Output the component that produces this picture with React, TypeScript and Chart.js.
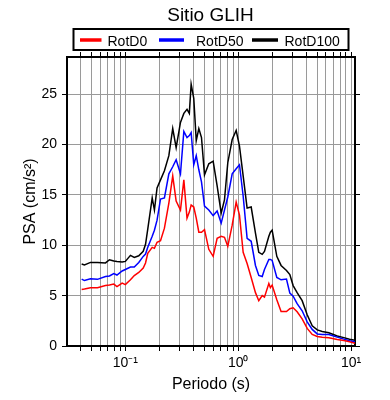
import { useEffect, useRef } from 'react';
import { Chart, registerables } from 'chart.js';

Chart.register(...registerables);

const FONT = "'Liberation Sans', Arial, Helvetica, sans-serif";

const chartTitle = 'Sitio GLIH';
const xAxisTitle = 'Periodo (s)';
const yAxisTitle = 'PSA (cm/s²)';

const seriesNames = ['RotD0', 'RotD50', 'RotD100'];
const seriesColors = ['#ff0000', '#0000ff', '#000000'];

const periods = [
  0.041, 0.0434, 0.0491, 0.0566, 0.0667, 0.0723, 0.079, 0.0843, 0.0937, 0.1,
  0.111, 0.12, 0.1315, 0.144, 0.151, 0.158, 0.173, 0.181, 0.191, 0.205,
  0.222, 0.243, 0.263, 0.282, 0.308, 0.33, 0.352, 0.369, 0.383, 0.404,
  0.425, 0.448, 0.473, 0.503, 0.549, 0.6, 0.651, 0.707, 0.756, 0.809,
  0.885, 0.96, 1.027, 1.107, 1.2, 1.304, 1.423, 1.523, 1.633, 1.71,
  1.87, 1.93, 2.0, 2.2, 2.4, 2.68, 2.87, 3.07, 3.33, 3.69,
  4.09, 4.53, 5.02, 5.56, 6.36, 7.55, 8.64, 9.7, 10.85,
];

const rotD0 = [
  5.6, 5.65, 5.78, 5.78, 6.0, 6.05, 6.15, 5.9, 6.24, 6.1,
  6.57, 7.0, 7.3, 7.75, 8.24, 9.2, 9.8, 9.7, 10.3, 10.45,
  11.7, 14.2, 16.9, 14.4, 13.5, 16.5, 12.7, 13.3, 14.0, 13.8,
  12.7, 11.3, 11.3, 11.55, 9.6, 8.9, 10.7, 10.9, 10.8, 9.9,
  12.0, 14.3, 13.0, 9.3, 8.2, 6.8, 5.3, 4.5, 5.0, 4.85,
  6.2, 5.8, 6.05, 4.6, 3.42, 3.42, 3.7, 3.8, 3.4, 2.7,
  1.75, 1.15, 0.95, 0.87, 0.83, 0.65, 0.55, 0.42, 0.28,
];

const rotD50 = [
  6.65, 6.5, 6.68, 6.62, 6.9, 6.95, 7.2, 7.05, 7.45, 7.6,
  7.84, 7.85, 8.3, 8.9, 9.13, 9.8, 10.9, 11.5, 12.5, 14.6,
  14.7, 17.1, 17.8, 18.5, 17.1, 21.3, 20.7, 20.9, 21.2, 18.0,
  18.9, 17.5, 16.3, 13.9, 13.5, 12.95, 13.4, 12.2, 13.5, 14.8,
  17.1, 17.6, 18.0, 14.9, 10.7, 10.4, 8.0, 7.0, 6.9, 7.6,
  8.6, 8.6, 8.5, 6.8, 6.57, 6.65, 5.25, 4.95, 4.2, 3.5,
  2.4, 1.65, 1.2, 1.15, 1.15, 0.88, 0.68, 0.52, 0.43,
];

const rotD100 = [
  8.15, 8.05, 8.3, 8.3, 8.25, 8.57, 8.45, 8.4, 8.35, 8.4,
  9.0, 8.8, 8.96, 9.4, 10.1, 11.6, 14.7, 13.5, 15.7, 16.5,
  17.4, 18.9, 21.6, 19.7, 22.2, 23.1, 23.5, 23.1, 26.0, 24.6,
  20.4, 21.6, 20.7, 17.0, 18.1, 18.35, 15.9, 13.2, 14.5, 18.2,
  20.5, 21.4, 19.85, 16.9, 13.7, 13.8, 11.2, 9.3, 9.1, 9.4,
  10.9, 11.3, 11.5, 8.9, 8.0, 7.5, 7.1, 6.0, 5.3, 4.5,
  3.1, 2.0, 1.6, 1.45, 1.32, 1.0, 0.83, 0.68, 0.58,
];

const seriesValues = [rotD0, rotD50, rotD100];

const xMin = 0.0304;
const xMax = 10.85;
const yMin = 0;
const yMax = 28.7;
const yTickValues = [0, 5, 10, 15, 20, 25];

const superscripts: Record<string, string> = { '-': '⁻', '0': '⁰', '1': '¹', '2': '²', '3': '³' };

function logTickValues(): number[] {
  const out: number[] = [];
  for (let k = -2; k <= 1; k++) {
    for (let m = 1; m <= 9; m++) {
      const v = parseFloat((m * Math.pow(10, k)).toPrecision(6));
      if (v >= xMin && v <= xMax) out.push(v);
    }
  }
  return out;
}

function decadeLabel(v: number): string {
  const l = Math.log10(v);
  const r = Math.round(l);
  if (Math.abs(l - r) > 1e-9) return '';
  return '10' + String(r).split('').map((c) => superscripts[c] || c).join('');
}

const titleLegendPlugin = {
  id: 'titleLegend',
  afterDraw(chart: any) {
    const ctx = chart.ctx as CanvasRenderingContext2D;
    ctx.save();
    ctx.fillStyle = '#000';
    ctx.textAlign = 'center';
    ctx.textBaseline = 'alphabetic';
    ctx.font = `19px ${FONT}`;
    ctx.fillText(chartTitle, 210.5, 21);

    ctx.strokeStyle = '#000';
    ctx.lineWidth = 2;
    ctx.strokeRect(73.5, 29, 275, 21);

    const lineStarts = [80, 159, 252];
    const lineEnds = [101.5, 184, 278];
    const textStarts = [107.5, 196, 284.5];
    ctx.font = `14px ${FONT}`;
    ctx.textAlign = 'left';
    for (let i = 0; i < seriesNames.length; i++) {
      ctx.strokeStyle = seriesColors[i];
      ctx.lineWidth = 3.5;
      ctx.beginPath();
      ctx.moveTo(lineStarts[i], 40);
      ctx.lineTo(lineEnds[i], 40);
      ctx.stroke();
      ctx.fillStyle = '#000';
      ctx.fillText(seriesNames[i], textStarts[i], 45.5);
    }
    ctx.restore();
  },
};

export default function App() {
  const canvasRef = useRef<HTMLCanvasElement | null>(null);

  useEffect(() => {
    const canvas = canvasRef.current;
    if (!canvas) return;
    const xTicks = logTickValues();
    const gridColor = '#9a9a9a';

    const chart = new Chart(canvas, {
      type: 'line',
      data: {
        datasets: seriesNames.map((name, i) => ({
          label: name,
          data: periods.map((p, j) => ({ x: p, y: seriesValues[i][j] })),
          borderColor: seriesColors[i],
          backgroundColor: seriesColors[i],
          borderWidth: 1.5,
          pointRadius: 0,
          tension: 0,
          fill: false,
        })),
      },
      options: {
        animation: false,
        responsive: false,
        devicePixelRatio: 1,
        layout: { padding: 0 },
        plugins: {
          legend: { display: false },
          title: { display: false },
          tooltip: { enabled: false },
        },
        scales: {
          x: {
            type: 'logarithmic',
            position: 'bottom',
            min: xMin,
            max: xMax,
            afterBuildTicks: (s: any) => {
              s.ticks = xTicks.map((v) => ({ value: v }));
            },
            afterFit: (s: any) => {
              s.height = 54;
            },
            ticks: {
              autoSkip: false,
              maxRotation: 0,
              minRotation: 0,
              padding: 4,
              color: '#000',
              font: { family: FONT, size: 14 },
              callback: (v: any) => decadeLabel(Number(v)),
            },
            grid: { color: gridColor, lineWidth: 1, tickColor: '#000', tickLength: 5, drawTicks: true },
            border: { color: '#000', width: 2 },
            title: {
              display: true,
              text: xAxisTitle,
              color: '#000',
              font: { family: FONT, size: 16 },
              padding: { top: 0, bottom: 6 },
            },
          },
          x2: {
            type: 'logarithmic',
            position: 'top',
            min: xMin,
            max: xMax,
            afterBuildTicks: (s: any) => {
              s.ticks = xTicks.map((v) => ({ value: v }));
            },
            afterFit: (s: any) => {
              s.height = 57;
            },
            ticks: { display: false },
            grid: { drawOnChartArea: false, tickColor: '#000', tickLength: 5, drawTicks: true },
            border: { color: '#000', width: 2 },
          },
          y: {
            type: 'linear',
            position: 'left',
            min: yMin,
            max: yMax,
            afterBuildTicks: (s: any) => {
              s.ticks = yTickValues.map((v) => ({ value: v }));
            },
            afterFit: (s: any) => {
              s.width = 67;
            },
            ticks: {
              padding: 5,
              color: '#000',
              font: { family: FONT, size: 14 },
              callback: (v: any) => String(v),
            },
            grid: { color: gridColor, lineWidth: 1, tickColor: '#000', tickLength: 5, drawTicks: true },
            border: { color: '#000', width: 2 },
            title: {
              display: true,
              text: yAxisTitle,
              color: '#000',
              font: { family: FONT, size: 16 },
              padding: { top: 21, bottom: 0 },
            },
          },
          y2: {
            type: 'linear',
            position: 'right',
            min: yMin,
            max: yMax,
            afterBuildTicks: (s: any) => {
              s.ticks = yTickValues.map((v) => ({ value: v }));
            },
            afterFit: (s: any) => {
              s.width = 35;
            },
            ticks: { display: false },
            grid: { drawOnChartArea: false, tickColor: '#000', tickLength: 5, drawTicks: true },
            border: { color: '#000', width: 2 },
          },
        },
      } as any,
      plugins: [titleLegendPlugin],
    });

    return () => {
      chart.destroy();
    };
  }, []);

  return (
    <div style={{ position: 'absolute', left: 0, top: 0, width: 390, height: 400, background: '#fff' }}>
      <canvas ref={canvasRef} width={390} height={400} style={{ display: 'block', width: 390, height: 400 }} />
    </div>
  );
}
